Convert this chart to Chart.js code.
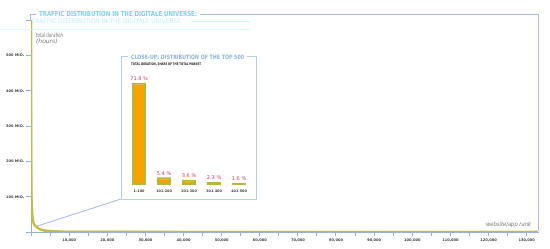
<!DOCTYPE html>
<html>
<head>
<meta charset="utf-8">
<script src="https://cdn.jsdelivr.net/npm/chart.js@4/dist/chart.umd.min.js"></script>
<style>
  html, body { margin: 0; padding: 0; background: #fff; }
  #wrap { position: relative; width: 550px; height: 249px; }
  #mainChart { position: absolute; left: 0; top: 0; }
  #insetChart { position: absolute; left: 121px; top: 56px; }
</style>
</head>
<body>
<div id="wrap">
  <canvas id="mainChart" width="550" height="249"></canvas>
  <canvas id="insetChart" width="135" height="143"></canvas>
</div>
<script>
// total duration (million hours) by website/app rank
var rankValues = [1, 30, 100, 200, 300, 450, 700, 1000, 1500, 2000, 3000, 4000, 6000, 10000, 20000, 40000, 80000, 133000];
var durationValues = [600, 350, 150, 80, 55, 36, 25, 19, 14, 10, 5.5, 3.5, 1.8, 0.9, 0.5, 0.3, 0.2, 0.1];
var yTickStep = 100;      // "100 MIO." ... "500 MIO."
var xTickStep = 10000;    // "10,000" ... "130,000"
var xTickLast = 130000;

// close-up: top 500, share of total market
var topGroups = ['1-100', '101-200', '201-300', '301-400', '401-500'];
var topShares = [71.8, 5.4, 3.6, 2.3, 1.6];

var mainTitle = 'TRAFFIC DISTRIBUTION IN THE DIGITALE UNIVERSE:';
var insetTitle = 'CLOSE-UP: DISTRIBUTION OF THE TOP 500';
var insetSubtitle = 'TOTAL DURATION, SHARE OF THE TOTAL MARKET';

var curvePoints = rankValues.map(function (r, i) {
    return { x: r, y: durationValues[i] };
});

function line(ctx, x1, y1, x2, y2, color, w) {
    ctx.beginPath();
    ctx.strokeStyle = color;
    ctx.lineWidth = w || 1;
    ctx.moveTo(x1, y1);
    ctx.lineTo(x2, y2);
    ctx.stroke();
}

// frame, titles and close-up box around the chart
var decorPlugin = {
    id: 'decor',
    afterDraw: function (chart) {
        var ctx = chart.ctx;
        var area = chart.chartArea;
        var xs = chart.scales.x, ys = chart.scales.y;
        ctx.save();

        // faint duplicate of the heading
        ctx.fillStyle = '#c4f0fa';
        ctx.font = '6.5px "DejaVu Sans Condensed", sans-serif';
        ctx.textBaseline = 'middle';
        ctx.fillText('TRAFFIC DISTRIBUTION IN THE DIGITALE UNIVERSE', 32, 21.5, 156);
        line(ctx, 191, 21.5, 250, 21.5, '#c8f2fb', 0.8);
        line(ctx, 0, 29.5, 250, 29.5, '#d2f6fc', 0.8);

        // outer frame
        var frameColor = '#a9bedb';
        line(ctx, 30.5, 14.5, 36, 14.5, frameColor, 1);
        line(ctx, 30.5, 14, 30.5, area.top, frameColor, 1);
        line(ctx, 200, 14.5, area.right + 0.5, 14.5, frameColor, 1);
        line(ctx, area.right + 0.5, 14, area.right + 0.5, area.bottom - 1, frameColor, 1);

        // heading
        ctx.fillStyle = '#7fd3ee';
        ctx.font = 'bold 7px "DejaVu Sans Condensed", sans-serif';
        ctx.textBaseline = 'middle';
        ctx.fillText(mainTitle, 39, 14.5, 158);

        // axis captions
        ctx.fillStyle = '#777';
        ctx.font = 'italic 6px "DejaVu Sans", sans-serif';
        ctx.textAlign = 'left';
        ctx.fillText('total duration', 36, 35, 27);
        ctx.fillText('(hours)', 36, 41.5);
        ctx.textAlign = 'right';
        ctx.fillText('website/app rank', 531, 224.5, 45);

        // connector from the curve to the close-up box
        var cx = xs.getPixelForValue(1700);
        var cy = ys.getPixelForValue(17);
        line(ctx, cx, cy, 121, 199, '#8ea6de', 0.8);

        // close-up box
        ctx.strokeStyle = '#b3cfee';
        ctx.lineWidth = 1;
        ctx.beginPath();
        ctx.moveTo(128, 56.5);
        ctx.lineTo(121.5, 56.5);
        ctx.lineTo(121.5, 199.5);
        ctx.lineTo(256.5, 199.5);
        ctx.lineTo(256.5, 56.5);
        ctx.lineTo(247, 56.5);
        ctx.stroke();

        ctx.textAlign = 'left';
        ctx.fillStyle = '#8fb2e2';
        ctx.font = 'bold 6px "DejaVu Sans Condensed", sans-serif';
        ctx.fillText(insetTitle, 131, 57, 113);

        ctx.fillStyle = '#222';
        ctx.font = 'bold 3.4px "DejaVu Sans", sans-serif';
        ctx.fillText(insetSubtitle, 131, 64.5, 70);

        ctx.restore();
    }
};

new Chart(document.getElementById('mainChart'), {
    type: 'line',
    data: {
        datasets: [{
            data: curvePoints,
            borderColor: '#bdbd48',
            borderWidth: 2.5,
            pointRadius: 0,
            cubicInterpolationMode: 'monotone',
            fill: false
        }]
    },
    options: {
        responsive: false,
        animation: false,
        layout: { padding: { top: 20, right: 12, left: 0, bottom: 0 } },
        plugins: { legend: { display: false }, tooltip: { enabled: false } },
        scales: {
            x: {
                type: 'linear',
                min: 0,
                max: 133000,
                afterFit: function (s) { s.height = 17; },
                afterBuildTicks: function (s) {
                    var t = [];
                    for (var v = 0; v <= xTickLast; v += xTickStep / 2) t.push({ value: v });
                    s.ticks = t;
                },
                border: { color: '#9ab0d8' },
                grid: { drawOnChartArea: false, tickLength: 4, color: '#9ab0d8' },
                ticks: {
                    autoSkip: false,
                    maxRotation: 0,
                    minRotation: 0,
                    padding: 2,
                    color: '#444',
                    font: { size: 3.6, weight: 'bold', family: '"DejaVu Sans"' },
                    callback: function (v) {
                        if (v === 0 || v % xTickStep !== 0) return '';
                        return v.toLocaleString('en-US');
                    }
                }
            },
            y: {
                min: 0,
                max: 600,
                afterFit: function (s) { s.width = 31; },
                border: { color: '#9ab0d8' },
                grid: { drawOnChartArea: false, tickLength: 5, color: '#9ab0d8' },
                ticks: {
                    stepSize: yTickStep,
                    padding: 2,
                    color: '#444',
                    font: { size: 3.6, weight: 'bold', family: '"DejaVu Sans"' },
                    callback: function (v) {
                        if (v === 0 || v === 600) return '';
                        return v + ' MIO.';
                    }
                }
            }
        }
    },
    plugins: [decorPlugin]
});

// percentage labels above the close-up bars
var barLabelPlugin = {
    id: 'barLabels',
    afterDatasetsDraw: function (chart) {
        var ctx = chart.ctx;
        var meta = chart.getDatasetMeta(0);
        ctx.save();
        ctx.fillStyle = '#c8407a';
        ctx.font = '5px "DejaVu Sans", sans-serif';
        ctx.textAlign = 'center';
        ctx.textBaseline = 'bottom';
        meta.data.forEach(function (bar, i) {
            ctx.fillText(topShares[i].toFixed(1) + ' %', bar.x, bar.y - 1.5);
        });
        ctx.restore();
    }
};

new Chart(document.getElementById('insetChart'), {
    type: 'bar',
    data: {
        labels: topGroups,
        datasets: [{
            data: topShares,
            backgroundColor: '#f5a200',
            borderColor: '#b7b63c',
            borderWidth: 2,
            borderSkipped: false,
            categoryPercentage: 1,
            barPercentage: 0.56
        }]
    },
    options: {
        responsive: false,
        animation: false,
        layout: { padding: { top: 15, right: 4.5, left: 5.5, bottom: 0 } },
        plugins: { legend: { display: false }, tooltip: { enabled: false } },
        scales: {
            x: {
                afterFit: function (s) { s.height = 14; },
                border: { display: false },
                grid: { display: false, drawTicks: false },
                ticks: {
                    padding: 4,
                    maxRotation: 0,
                    color: '#444',
                    font: { size: 3.4, weight: 'bold', family: '"DejaVu Sans"' }
                }
            },
            y: { display: false, min: 0, max: 80 }
        }
    },
    plugins: [barLabelPlugin]
});
</script>
</body>
</html>
